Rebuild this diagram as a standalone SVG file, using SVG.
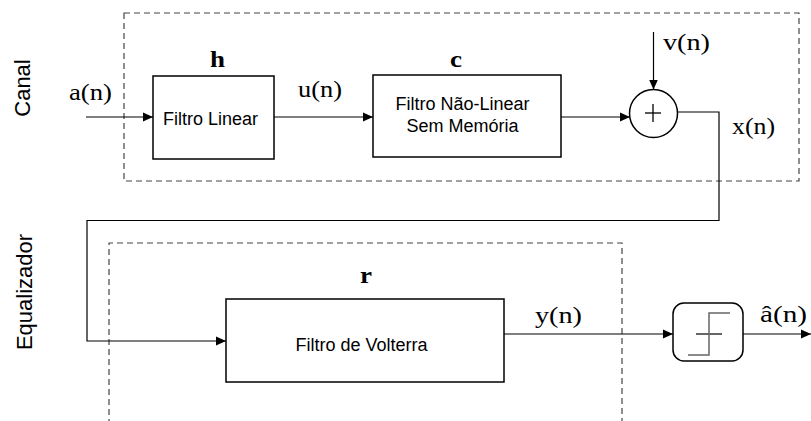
<svg xmlns="http://www.w3.org/2000/svg" width="811" height="421" viewBox="0 0 811 421">
<defs>
<style>
.box{fill:#fff;stroke:#000;stroke-width:1.5}
.dash{fill:none;stroke:#444;stroke-width:1.2;stroke-dasharray:6,4}
.wire{fill:none;stroke:#000;stroke-width:1.2}
.sans{font-family:"Liberation Sans",Arial,sans-serif;font-size:18px;fill:#000}
.side{font-family:"Liberation Sans",Arial,sans-serif;font-size:22px;fill:#000}
.serif{font-family:"Liberation Serif","Times New Roman",serif;font-size:23px;fill:#000}
.bold{font-family:"Liberation Serif","Times New Roman",serif;font-size:23px;font-weight:bold;fill:#000}
</style>
<marker id="arr" viewBox="0 0 10 10" refX="10" refY="5" markerWidth="10" markerHeight="10" markerUnits="userSpaceOnUse" orient="auto">
<path d="M0,0.5 L10,5 L0,9.5 Z" fill="#000"/>
</marker>
</defs>
<rect width="811" height="421" fill="#fff"/>

<g id="regions">
<rect class="dash" x="124" y="13" width="675" height="168"/>
<path class="dash" d="M109,425 V243 H622 V425"/>
<text class="side" transform="translate(30,88) rotate(-90)" text-anchor="middle">Canal</text>
<text class="side" transform="translate(32,292) rotate(-90)" text-anchor="middle">Equalizador</text>
</g>

<g id="connectors">
<line class="wire" x1="86" y1="117" x2="153" y2="117" marker-end="url(#arr)"/>
<line class="wire" x1="274" y1="117" x2="373" y2="117" marker-end="url(#arr)"/>
<line class="wire" x1="561" y1="117" x2="630" y2="117" marker-end="url(#arr)"/>
<line class="wire" x1="653.5" y1="32" x2="653.5" y2="89.5" marker-end="url(#arr)"/>
<path class="wire" d="M677.5,112 H719 V220.5 H87 V341 H226" marker-end="url(#arr)"/>
<line class="wire" x1="504" y1="334" x2="673" y2="334" marker-end="url(#arr)"/>
<line class="wire" x1="743" y1="334" x2="811" y2="334" marker-end="url(#arr)"/>
<text class="serif" x="69" y="100" textLength="43" lengthAdjust="spacingAndGlyphs">a(n)</text>
<text class="serif" x="298" y="97" textLength="44" lengthAdjust="spacingAndGlyphs">u(n)</text>
<text class="serif" x="663" y="50" textLength="47" lengthAdjust="spacingAndGlyphs">v(n)</text>
<text class="serif" x="732" y="134" textLength="43" lengthAdjust="spacingAndGlyphs">x(n)</text>
<text class="serif" x="535" y="323" textLength="47" lengthAdjust="spacingAndGlyphs">y(n)</text>
<text class="serif" x="760" y="322" textLength="47" lengthAdjust="spacingAndGlyphs">â(n)</text>
</g>

<g id="h">
<rect class="box" x="153" y="76" width="121" height="83"/>
<text class="bold" x="210" y="67" textLength="15" lengthAdjust="spacingAndGlyphs">h</text>
<text class="sans" x="210.5" y="125" text-anchor="middle">Filtro Linear</text>
</g>

<g id="c">
<rect class="box" x="373" y="75" width="188" height="82"/>
<text class="bold" x="450" y="67" textLength="12" lengthAdjust="spacingAndGlyphs">c</text>
<text class="sans" x="462.5" y="110" text-anchor="middle">Filtro Não-Linear</text>
<text class="sans" x="462.5" y="132" text-anchor="middle">Sem Memória</text>
</g>

<g id="sum">
<circle cx="653.5" cy="113.5" r="24" fill="#fff" stroke="#000" stroke-width="1.5"/>
<line x1="645" y1="113" x2="661" y2="113" stroke="#000" stroke-width="1.3"/>
<line x1="653" y1="104" x2="653" y2="122" stroke="#000" stroke-width="1.3"/>
</g>

<g id="r">
<rect class="box" x="226" y="299" width="278" height="83"/>
<text class="bold" x="360" y="283" textLength="12" lengthAdjust="spacingAndGlyphs">r</text>
<text class="sans" x="361.5" y="351" text-anchor="middle">Filtro de Volterra</text>
</g>

<g id="decision">
<rect class="box" x="673" y="303" width="70" height="58" rx="11" ry="11"/>
<line x1="696" y1="334" x2="722" y2="334" stroke="#000" stroke-width="1.2"/>
<path d="M688,355 H709 V313 H730" fill="none" stroke="#666" stroke-width="1.5"/>
</g>
</svg>
